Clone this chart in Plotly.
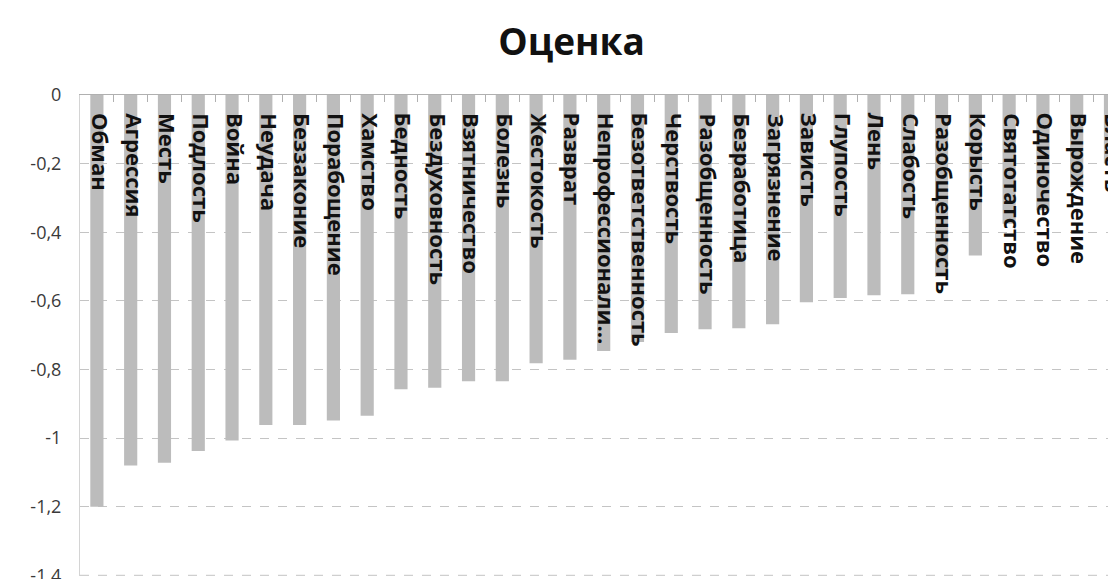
import plotly.graph_objects as go

categories = ["Обман", "Агрессия", "Месть", "Подлость", "Война", "Неудача", "Беззаконие",
              "Порабощение", "Хамство", "Бедность", "Бездуховность", "Взятничество", "Болезнь",
              "Жестокость", "Разврат", "Непрофессионали...", "Безответственность", "Черствость",
              "Разобщенность", "Безработица", "Загрязнение", "Зависть", "Глупость", "Лень",
              "Слабость", "Разобщенность", "Корысть", "Святотатство", "Одиночество",
              "Вырождение", "Власть"]
values = [-1.20, -1.08, -1.072, -1.038, -1.007, -0.962, -0.962, -0.949, -0.935, -0.858,
          -0.853, -0.834, -0.834, -0.782, -0.772, -0.746, -0.72, -0.694, -0.683, -0.68,
          -0.668, -0.604, -0.592, -0.584, -0.581, -0.53, -0.468, -0.375, -0.336, -0.269, -0.2]
ytick_vals = [0, -0.2, -0.4, -0.6, -0.8, -1.0, -1.2, -1.4]
ytick_text = ["0", "-0,2", "-0,4", "-0,6", "-0,8", "-1", "-1,2", "-1,4"]

idx = list(range(len(categories)))

fig = go.Figure()
fig.add_trace(go.Bar(x=idx, y=values, width=0.39, marker=dict(color="#bcbcbc", line=dict(width=0)),
                     hoverinfo="skip"))

for i, name in zip(idx, categories):
    fig.add_annotation(x=i, y=0, text=name, textangle=90, showarrow=False,
                       xanchor="center", yanchor="top", yshift=-16, xshift=4,
                       font=dict(family="Open Sans", size=22, color="#111111", weight="bold"))

# bottom gridline (at the lowest tick, on the axis edge)
fig.add_shape(type="line", xref="paper", yref="y", x0=0, x1=1,
              y0=ytick_vals[-1], y1=ytick_vals[-1],
              line=dict(color="#c4c4c4", width=1, dash="dash"))

fig.update_layout(
    width=1116, height=579,
    margin=dict(l=72, r=0, t=87, b=8),
    paper_bgcolor="white", plot_bgcolor="white",
    showlegend=False,
    title=dict(text="<b>Оценка</b>", x=0.505, xanchor="center", y=0.942, yanchor="middle",
               font=dict(family="Open Sans", size=37, color="#111111")),
    bargap=0.6,
)
fig.update_xaxes(
    range=[-0.5, 30.4], side="top", showgrid=False, zeroline=False,
    showline=True, linecolor="#b0b0b0", linewidth=1,
    tickvals=[i + 0.5 for i in idx], ticks="inside", ticklen=7, tickcolor="#b0b0b0",
    showticklabels=False,
)
fig.update_yaxes(
    range=[-1.402, 0], tickvals=ytick_vals, ticktext=ytick_text,
    showgrid=True, gridcolor="#c4c4c4", griddash="dash", gridwidth=1,
    zeroline=False, showline=True, linecolor="#d4d4d4", linewidth=1,
    ticks="", ticklabelstandoff=14, ticklabeloverflow="allow",
    tickfont=dict(family="Open Sans", size=18, color="#3a3a3a"),
)

fig.write_html("out.html")
